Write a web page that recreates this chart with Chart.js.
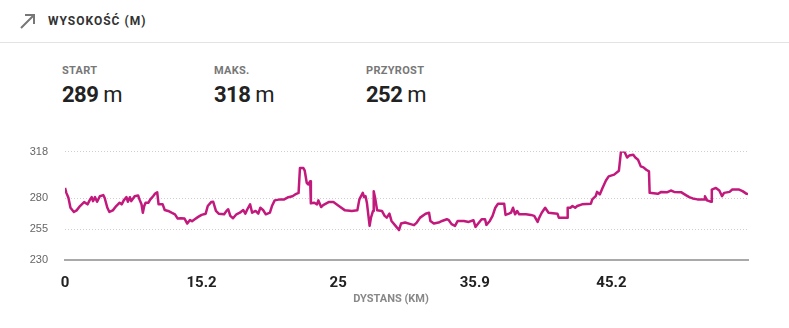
<!DOCTYPE html>
<html>
<head>
<meta charset="utf-8">
<script src="https://cdn.jsdelivr.net/npm/chart.js@4.4.1/dist/chart.umd.min.js"></script>
<style>
  body { margin: 0; background: #fff; width: 789px; height: 328px; overflow: hidden; position: relative; font-family: Roboto, "Liberation Sans", sans-serif; }
  .head { position: absolute; left: 0; top: 0; width: 789px; height: 42px; border-bottom: 1px solid #e3e3e3; }
  .head svg { position: absolute; left: 19px; top: 12px; }
  .head .title { position: absolute; left: 48px; top: 14px; font-size: 12px; font-weight: bold; color: #333; letter-spacing: 1px; }
  .stat { position: absolute; top: 64px; }
  .stat .lbl { font-size: 11px; font-weight: bold; color: #777; letter-spacing: 0.3px; }
  .stat .val { margin-top: 5px; font-size: 22px; line-height: 26px; color: #222; letter-spacing: -0.5px; }
  .stat .val b { font-weight: bold; }
  #wrap { position: absolute; left: 0; top: 128px; width: 789px; height: 187px; }
  .xtitle { position: absolute; left: 0; width: 782px; top: 292px; text-align: center; font-size: 11px; font-weight: bold; color: #888; }
</style>
</head>
<body>
<div class="head">
  <svg width="18" height="18" viewBox="0 0 18 18"><path d="M2 16 L15 3 M6 3 L15 3 L15 12" stroke="#777" stroke-width="2" fill="none"/></svg>
  <div class="title">WYSOKOŚĆ (M)</div>
</div>
<div class="stat" style="left:62px"><div class="lbl">START</div><div class="val"><b>289</b> m</div></div>
<div class="stat" style="left:214px"><div class="lbl">MAKS.</div><div class="val"><b>318</b> m</div></div>
<div class="stat" style="left:366px"><div class="lbl">PRZYROST</div><div class="val"><b>252</b> m</div></div>
<div id="wrap"><canvas id="elev"></canvas></div>
<div class="xtitle">DYSTANS (KM)</div>
<script>
// position along the route (% of track) and elevation (m)
const routePos = [
  0, 0.2, 0.5, 0.8, 1.3, 1.7, 2.2, 2.8, 3.3, 3.6, 3.9, 4.1, 4.4, 4.7, 5.1, 5.6, 5.8, 6.2, 6.5, 7.0,
  7.5, 8.0, 8.3, 8.6, 9.0, 9.2, 9.5, 9.7, 10.2, 10.7, 10.9, 11.2, 11.4, 11.6, 11.8, 12.2, 12.5, 12.9, 13.2, 13.5,
  13.7, 14.3, 14.6, 15.1, 15.6, 16.1, 16.5, 17.0, 17.5, 17.9, 18.3, 18.6, 19.0, 19.5, 20.0, 20.6, 20.9, 21.4, 21.7, 22.1,
  22.5, 23.3, 23.7, 23.9, 24.2, 24.6, 25.1, 25.6, 26.1, 26.4, 26.7, 27.1, 27.4, 27.9, 28.3, 28.6, 29.0, 29.4, 30.0, 30.3,
  30.7, 31.5, 32.1, 32.7, 33.3, 33.7, 34.2, 34.4, 34.9, 35.1, 35.4, 35.6, 35.9, 36.0, 36.5, 36.9, 37.1, 37.5, 37.8, 38.6,
  39.3, 40.1, 41.0, 42.0, 42.8, 43.1, 43.6, 43.8, 44.0, 44.2, 44.6, 44.8, 45.1, 45.2, 45.4, 45.7, 46.4, 46.8, 47.1, 47.5,
  47.8, 48.4, 48.9, 49.2, 49.8, 50.6, 51.1, 51.5, 52.0, 52.8, 53.3, 53.5, 54.0, 54.7, 55.2, 55.9, 56.2, 56.6, 57.1, 57.5,
  58.4, 59.1, 59.8, 60.1, 60.5, 61.0, 61.5, 61.7, 62.2, 62.6, 63.0, 63.4, 64.3, 64.5, 65.0, 65.3, 65.6, 65.9, 66.2, 66.5,
  67.5, 68.2, 68.7, 69.2, 69.4, 69.8, 70.3, 70.8, 72.1, 72.3, 73.5, 73.6, 74.0, 74.3, 74.7, 75.0, 75.7, 77.0, 77.2, 77.7,
  77.9, 78.3, 78.7, 79.2, 79.6, 80.4, 81.1, 81.4, 81.9, 82.3, 82.6, 83.2, 83.5, 83.9, 84.3, 84.7, 85.1, 85.5, 85.6, 86.8,
  87.3, 88.2, 88.7, 89.2, 90.2, 90.9, 91.4, 91.9, 92.6, 93.6, 93.7, 94.0, 94.6, 94.7, 95.3, 95.8, 96.2, 96.5, 97.3, 97.7,
  98.7, 99.2, 99.8, 100
];
const elevation = [
  288.5, 284.5, 280.5, 272.4, 269, 270.3, 273.8, 277, 275.2, 278.4, 281, 277.8, 281, 277.3, 281.8, 282.7, 280.5, 272.4, 269, 270.3,
  273.8, 276.5, 275.2, 278.4, 281, 277.3, 281, 277.8, 281.8, 282.4, 279.2, 275.2, 268.4, 273.8, 276.5, 276.5, 279.2, 281.8, 284, 285,
  275.2, 275.2, 270.6, 269.8, 268.4, 267.1, 263.6, 263.9, 263.6, 259.6, 262.5, 261.5, 263.1, 265, 266.6, 267.6, 273.8, 277, 277.3, 269.8,
  267.6, 267.1, 270.3, 271.2, 265.8, 263.9, 267.1, 268.4, 270.6, 267.6, 271.2, 275.2, 268.4, 269.8, 267.6, 272.4, 270.6, 267.1, 268.4, 273.8,
  278.4, 279.2, 279.2, 281, 281.8, 283.2, 284.5, 304.6, 304.6, 302.5, 292.5, 291.3, 293.9, 276, 276.5, 275.2, 278.4, 273, 274.6, 277,
  277, 273.8, 270.3, 269.8, 270.3, 279.2, 284.5, 281, 281.8, 276.5, 257.7, 264.4, 269.8, 285.9, 280.5, 270.3, 269.8, 265.8, 264.4, 267.6,
  261.7, 257.7, 254.3, 259.6, 260.4, 259.1, 258.3, 260.4, 264.4, 267.6, 268.4, 261.7, 259.6, 260.4, 261.7, 263.1, 262.3, 259.1, 257.7, 261.7,
  261.7, 260.9, 262.3, 256.9, 259.6, 263.1, 263.1, 258.5, 261.7, 265.8, 272.4, 275.7, 275.7, 266.6, 267.6, 268.4, 272.4, 267.1, 269.8, 267.1,
  267.1, 266.6, 265.8, 260.9, 263.9, 268.4, 272.4, 268.4, 267.6, 264.4, 264.4, 272.4, 272.4, 273.8, 272.4, 273.8, 275.2, 275.7, 279.2, 281.8,
  285.3, 283.2, 288.5, 294.5, 297.9, 299.3, 302.5, 318, 318, 313.2, 314.8, 315.4, 313.2, 311.4, 306, 305.2, 303.3, 302, 284.5, 283.7,
  285.3, 285.1, 286.4, 285.3, 285.1, 282.7, 281, 280, 279.2, 279.2, 281.8, 278.4, 277.3, 287.2, 288.5, 286.4, 281.8, 284.5, 285.3, 287.2,
  287.2, 285.9, 283.7, 283.5
];
// axis ticks
const yTicks = [230, 255, 280, 318];
const xTickPos = [0, 20, 40, 60, 80];
const xTickLabels = ['0', '15.2', '25', '35.9', '45.2'];

const points = routePos.map((p, i) => ({ x: p, y: elevation[i] }));

new Chart(document.getElementById('elev'), {
  type: 'line',
  data: {
    datasets: [{
      data: points,
      borderColor: '#c2197c',
      borderWidth: 2.5,
      pointRadius: 0,
      tension: 0,
      borderJoinStyle: 'round',
      fill: false
    }]
  },
  options: {
    responsive: true,
    maintainAspectRatio: false,
    animation: false,
    layout: { padding: { top: 8, right: 41, left: 0, bottom: 0 } },
    plugins: { legend: { display: false }, tooltip: { enabled: false } },
    scales: {
      x: {
        type: 'linear',
        min: 0,
        max: 100,
        afterFit: s => { s.height = 55; },
        afterBuildTicks: s => { s.ticks = xTickPos.map(v => ({ value: v })); },
        grid: { display: false },
        border: { display: true, color: '#a9a9a9', width: 2 },
        ticks: {
          padding: 6,
          color: '#222',
          maxRotation: 0,
          autoSkip: false,
          font: { family: 'Roboto, sans-serif', size: 15, weight: 'bold' },
          callback: (v, i) => xTickLabels[i]
        }
      },
      y: {
        min: 230,
        max: 318,
        afterFit: s => { s.width = 65; },
        afterBuildTicks: s => { s.ticks = yTicks.map(v => ({ value: v })); },
        grid: {
          drawTicks: false,
          color: ctx => ctx.tick && ctx.tick.value === 230 ? 'rgba(0,0,0,0)' : '#cfcfcf',
          lineWidth: 1
        },
        border: { display: false, dash: [1, 2] },
        ticks: {
          padding: 17,
          color: '#666',
          font: { family: '"Liberation Sans", sans-serif', size: 11 }
        }
      }
    }
  }
});
</script>
</body>
</html>
